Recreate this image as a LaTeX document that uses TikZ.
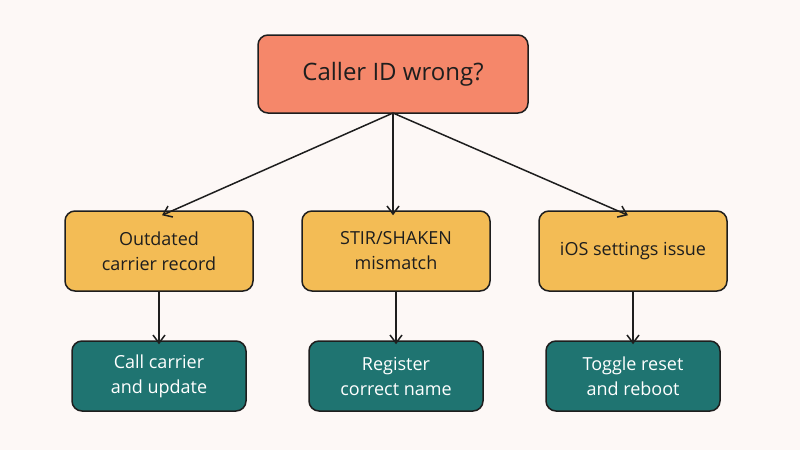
\documentclass[tikz,border=0pt]{standalone}
\usepackage{fontspec}
\setmainfont{Open Sans}
\usetikzlibrary{arrows.meta}
\definecolor{bg}{HTML}{FDF8F6}
\definecolor{topc}{HTML}{F5876A}
\definecolor{midc}{HTML}{F3BC55}
\definecolor{botc}{HTML}{1F7471}
\definecolor{ink}{HTML}{1E1E1E}
\begin{document}
\begin{tikzpicture}[x=1pt,y=-1pt,
  box/.style={draw=ink,line width=1.5pt,rounded corners=10pt,align=center,inner sep=0pt},
  mid/.style={box,fill=midc,minimum width=188pt,minimum height=80pt,font=\fontsize{18}{25}\selectfont,text=ink},
  bot/.style={box,fill=botc,minimum width=174pt,minimum height=70pt,font=\fontsize{18}{25}\selectfont,text=white},
  arr/.style={draw=ink,line width=1.5pt,-{Straight Barb[length=8pt,width=12pt]}}]
\fill[bg] (0,0) rectangle (800,450);
\node[box,fill=topc,minimum width=270pt,minimum height=78pt,font=\fontsize{24}{28}\selectfont,text=ink] (top) at (393,74) {Caller ID wrong?};
\node[mid] (m1) at (159,251) {Outdated\\carrier record};
\node[mid] (m2) at (396,251) {STIR/SHAKEN\\mismatch};
\node[mid] (m3) at (633,251) {iOS settings issue};
\node[bot] (b1) at (159,376) {Call carrier\\and update};
\node[bot] (b2) at (396,376) {Register\\correct name};
\node[bot] (b3) at (633,376) {Toggle reset\\and reboot};
\coordinate (o) at (393,113);
\draw[arr] (o) -- ([xshift=3pt,yshift=-5pt]m1.north);
\draw[arr] (o) -- ([xshift=-3pt,yshift=-5pt]m2.north);
\draw[arr] (o) -- ([xshift=-5pt,yshift=-5pt]m3.north);
\draw[arr] (m1.south) -- ([yshift=-4pt]b1.north);
\draw[arr] (m2.south) -- ([yshift=-4pt]b2.north);
\draw[arr] (m3.south) -- ([yshift=-4pt]b3.north);
\end{tikzpicture}
\end{document}
